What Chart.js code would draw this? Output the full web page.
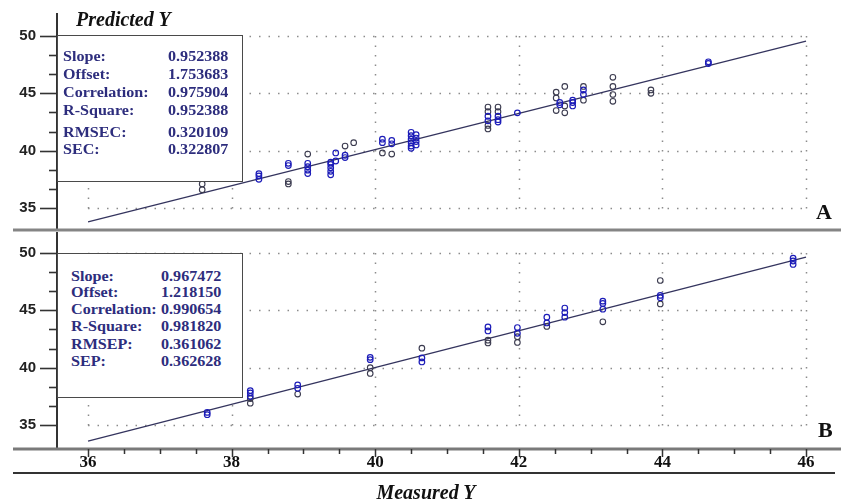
<!DOCTYPE html>
<html>
<head>
<meta charset="utf-8">
<script src="https://cdn.jsdelivr.net/npm/chart.js@4.4.0/dist/chart.umd.min.js"></script>
<style>
body{margin:0;background:#fff;width:841px;height:502px;position:relative;overflow:hidden}
canvas{position:absolute;left:0}
#cA{top:0}
#cB{top:232px}
.box{position:absolute;left:57px;width:186px;background:#fff;border:1.5px solid #4a4a4a;box-sizing:border-box}
.row{position:absolute;font:bold 14px 'Liberation Serif',serif;line-height:16px;color:#2d2d7d;white-space:nowrap;transform:scaleX(1.15);transform-origin:0 50%}
.ttl{position:absolute;font:italic bold 20px 'Liberation Serif',serif;line-height:24px;color:#111;white-space:nowrap}
.pan{position:absolute;font:bold 22px 'Liberation Serif',serif;line-height:24px;color:#111}
</style>
</head>
<body>
<canvas id="cA" width="841" height="232"></canvas>
<canvas id="cB" width="841" height="270"></canvas>

<div class="ttl" style="left:76px;top:7px">Predicted Y</div>
<div class="ttl" style="left:426px;top:480px;transform:translateX(-50%)">Measured Y</div>
<div class="pan" style="left:816px;top:200px">A</div>
<div class="pan" style="left:818px;top:418px">B</div>

<div class="box" id="boxA" style="top:35px;height:147px"></div>
<div class="box" id="boxB" style="top:253px;height:145px"></div>

<script>
// calibration set (A) and prediction set (B)
var statsA = [['Slope:', '0.952388'], ['Offset:', '1.753683'], ['Correlation:', '0.975904'],
              ['R-Square:', '0.952388'], ['RMSEC:', '0.320109'], ['SEC:', '0.322807']];
var statsB = [['Slope:', '0.967472'], ['Offset:', '1.218150'], ['Correlation:', '0.990654'],
              ['R-Square:', '0.981820'], ['RMSEP:', '0.361062'], ['SEP:', '0.362628']];

var xLabels = [36, 38, 40, 42, 44, 46];
var yLabels = [35, 40, 45, 50];
var yTickMarks = [35, 36.667, 38.333, 40, 41.667, 43.333, 45, 46.667, 48.333, 50];
var xTickMarks = [36, 36.5, 37, 37.5, 38, 38.5, 39, 39.5, 40, 40.5, 41, 41.5, 42, 42.5, 43, 43.5, 44, 44.5, 45, 45.5, 46];

// fitted lines, y at x = 36 and x = 46
var fitX = [36, 46];
var fitA = [33.8, 49.55];
var fitB = [33.6, 49.65];

var blueA = [[38.38,38.0],[38.38,37.8],[38.38,37.5],[38.79,38.9],[38.79,38.7],
  [39.06,38.9],[39.06,38.6],[39.06,38.3],[39.06,38.0],
  [39.38,39.0],[39.38,38.8],[39.38,38.5],[39.38,38.2],[39.38,37.9],[39.45,39.8],[39.45,39.1],
  [39.58,39.6],[39.58,39.4],[40.1,41.0],[40.1,40.7],[40.23,40.9],[40.23,40.6],
  [40.5,41.6],[40.5,41.3],[40.5,41.0],[40.5,40.7],[40.5,40.4],[40.5,40.2],
  [40.57,41.4],[40.57,41.1],[40.57,40.8],[40.57,40.5],
  [41.57,43.0],[41.57,42.6],[41.71,43.0],[41.71,42.7],[41.71,42.5],[41.98,43.3],
  [42.57,44.2],[42.57,44.0],[42.75,44.4],[42.75,44.2],[42.75,43.9],[42.9,45.3],[42.9,44.9],
  [44.64,47.75],[44.64,47.6]];
var darkA = [[37.59,37.1],[37.59,36.6],[38.79,37.3],[38.79,37.1],[39.06,39.7],[39.58,40.4],
  [39.7,40.7],[40.1,39.8],[40.23,39.7],[41.57,43.8],[41.57,43.4],[41.57,42.2],[41.57,41.9],
  [41.71,43.8],[41.71,43.4],[42.52,45.1],[42.52,44.6],[42.52,43.5],[42.64,45.6],[42.64,43.9],
  [42.64,43.3],[42.9,45.6],[42.9,44.4],[43.31,46.4],[43.31,45.6],[43.31,44.9],[43.31,44.3],
  [43.84,45.3],[43.84,45.0]];

var blueB = [[37.66,36.1],[37.66,35.9],[38.26,38.0],[38.26,37.8],[38.26,37.5],[38.92,38.5],[38.92,38.2],
  [39.93,40.9],[39.93,40.7],[40.65,40.85],[40.65,40.5],[41.57,43.55],[41.57,43.2],
  [41.98,43.5],[41.98,43.0],[42.39,44.4],[42.39,43.9],[42.64,45.2],[42.64,44.8],[42.64,44.4],
  [43.17,45.8],[43.17,45.6],[43.17,45.1],[43.97,46.3],[43.97,46.1],
  [45.82,49.55],[45.82,49.3],[45.82,49.0]];
var darkB = [[38.26,37.3],[38.26,36.9],[38.92,37.7],[39.93,40.0],[39.93,39.5],[40.65,41.7],
  [41.57,42.4],[41.57,42.15],[41.98,42.7],[41.98,42.2],[42.39,43.6],[43.17,44.0],
  [43.97,47.6],[43.97,45.55]];

function fillBox(id, stats, tops, labelX, valueX) {
    var box = document.getElementById(id);
    for (var i = 0; i < stats.length; i++) {
        var l = document.createElement('div');
        l.className = 'row'; l.style.top = tops[i] + 'px'; l.style.left = labelX + 'px';
        l.textContent = stats[i][0];
        var v = document.createElement('div');
        v.className = 'row'; v.style.top = tops[i] + 'px'; v.style.left = valueX + 'px';
        v.textContent = stats[i][1];
        box.appendChild(l); box.appendChild(v);
    }
}
fillBox('boxA', statsA, [13, 31, 49, 67, 89, 106], 5, 110);
fillBox('boxB', statsB, [15, 31, 48, 65, 83, 100], 13, 103);

function pts(arr) { return arr.map(function(p){ return {x: p[0], y: p[1]}; }); }
function line(ys) { return fitX.map(function(x, i){ return {x: x, y: ys[i]}; }); }

var gridPlugin = {
    id: 'dotGrid',
    beforeDatasetsDraw: function(chart) {
        var ctx = chart.ctx, xs = chart.scales.x, ys = chart.scales.y;
        var x0 = xs.getPixelForValue(xLabels[0]), x1 = xs.getPixelForValue(xLabels[xLabels.length-1]);
        var y0 = ys.getPixelForValue(yLabels[0]), y1 = ys.getPixelForValue(yLabels[yLabels.length-1]);
        ctx.save();
        ctx.strokeStyle = '#8c8c8c';
        ctx.lineWidth = 1.5;
        ctx.setLineDash([1.5, 8]);
        yLabels.forEach(function(v){
            var py = Math.round(ys.getPixelForValue(v)) + 0.5;
            ctx.beginPath(); ctx.moveTo(x0, py); ctx.lineTo(x1 + 1, py); ctx.stroke();
        });
        xLabels.forEach(function(v){
            var px = Math.round(xs.getPixelForValue(v)) + 0.5;
            ctx.beginPath(); ctx.moveTo(px, y1); ctx.lineTo(px, y0 + 1); ctx.stroke();
        });
        ctx.restore();
    }
};

var axisPlugin = {
    id: 'axisDeco',
    afterDraw: function(chart, args, opts) {
        var ctx = chart.ctx, xs = chart.scales.x, ys = chart.scales.y, area = chart.chartArea;
        ctx.save();
        ctx.strokeStyle = '#333';
        ctx.lineWidth = 1.6;
        yTickMarks.forEach(function(v){
            var py = Math.round(ys.getPixelForValue(v)) + 0.5;
            var len = (Math.abs(v % 5) < 0.01) ? 17 : 8;
            ctx.beginPath(); ctx.moveTo(area.left - len, py); ctx.lineTo(area.left, py); ctx.stroke();
        });
        if (opts.bottom) {
            ctx.strokeStyle = '#7a7a7a'; ctx.lineWidth = 3;
            ctx.beginPath(); ctx.moveTo(13, area.bottom + 1); ctx.lineTo(chart.width, area.bottom + 1); ctx.stroke();
            ctx.strokeStyle = '#333'; ctx.lineWidth = 1.5;
            xTickMarks.forEach(function(v){
                var px = Math.round(xs.getPixelForValue(v)) + 0.5;
                var len = (v % 2 === 0) ? 8 : 5;
                ctx.beginPath(); ctx.moveTo(px, area.bottom + 1); ctx.lineTo(px, area.bottom + 1 + len); ctx.stroke();
            });
            ctx.strokeStyle = '#333'; ctx.lineWidth = 2;
            ctx.beginPath(); ctx.moveTo(13, area.bottom + 25); ctx.lineTo(835, area.bottom + 25); ctx.stroke();
        } else {
            ctx.strokeStyle = '#858585'; ctx.lineWidth = 3;
            ctx.beginPath(); ctx.moveTo(13, area.bottom); ctx.lineTo(chart.width, area.bottom); ctx.stroke();
        }
        ctx.restore();
    }
};

function makeChart(id, blue, dark, fit, yMin, yMax, bottom) {
    var xMin = 35.568, xMax = 46.487;
    return new Chart(document.getElementById(id), {
        type: 'scatter',
        data: {
            datasets: [
                { data: pts(blue), pointRadius: 2.8, pointBorderWidth: 1.2, pointBorderColor: '#1c1cb8', pointBackgroundColor: 'rgba(0,0,0,0)', showLine: false },
                { data: pts(dark), pointRadius: 2.8, pointBorderWidth: 1.1, pointBorderColor: '#3b3b4f', pointBackgroundColor: 'rgba(0,0,0,0)', showLine: false },
                { data: line(fit), showLine: true, pointRadius: 0, borderColor: '#34345e', borderWidth: 1.3 }
            ]
        },
        options: {
            responsive: false,
            animation: false,
            events: [],
            layout: { autoPadding: false, padding: { top: bottom ? 0 : 14, bottom: bottom ? 0 : 2, left: 0, right: 0 } },
            plugins: { legend: { display: false }, tooltip: { enabled: false }, axisDeco: { bottom: bottom } },
            scales: {
                x: {
                    type: 'linear', position: 'bottom', display: bottom, min: xMin, max: xMax,
                    grid: { display: false, drawTicks: false },
                    border: { display: false },
                    ticks: {
                        font: { family: 'Liberation Serif', weight: 'bold', size: 17 },
                        color: '#111', padding: 4, autoSkip: false, maxRotation: 0,
                        callback: function(v){ return String(v); }
                    },
                    afterBuildTicks: function(s){ s.ticks = xLabels.map(function(v){ return {value: v}; }); },
                    afterFit: function(s){ s.height = bottom ? 54 : 0; s.paddingLeft = 0; s.paddingRight = 0; }
                },
                y: {
                    type: 'linear', position: 'left', min: yMin, max: yMax,
                    grid: { display: false, drawTicks: false },
                    border: { display: true, color: '#333', width: 2 },
                    ticks: {
                        font: { family: 'Liberation Sans', weight: 'bold', size: 15 },
                        color: '#222', padding: 21,
                        callback: function(v){ return String(v); }
                    },
                    afterBuildTicks: function(s){ s.ticks = yLabels.map(function(v){ return {value: v}; }); },
                    afterFit: function(s){ s.width = 57; s.paddingTop = 0; s.paddingBottom = 0; }
                }
            }
        },
        plugins: [gridPlugin, axisPlugin]
    });
}

makeChart('cA', blueA, darkA, fitA, 33.081, 51.919, false);
makeChart('cB', blueB, darkB, fitB, 32.994, 51.831, true);
</script>
</body>
</html>
